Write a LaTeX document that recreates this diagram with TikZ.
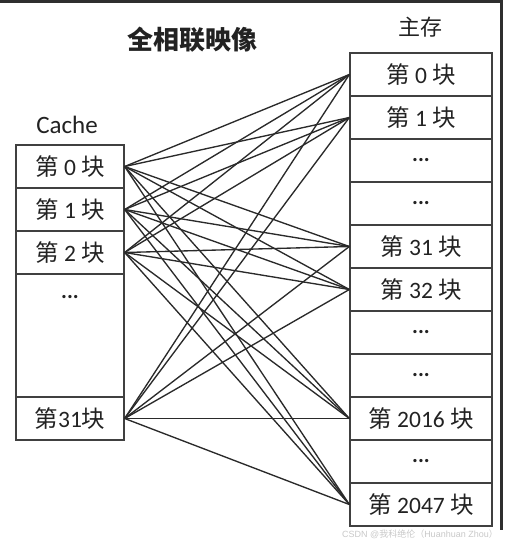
\documentclass[tikz,border=0pt]{standalone}
\usepackage{fontspec}
\setmainfont{Carlito}
\newfontfamily\cjk{Noto Sans CJK SC}
\newfontfamily\wmfont{Liberation Sans}
\definecolor{boxc}{HTML}{404040}
\definecolor{linec}{HTML}{2A2A2A}
\definecolor{framec}{HTML}{2E2E2E}
\definecolor{txtc}{HTML}{222222}
\definecolor{wmc}{HTML}{C8C8C8}
\begin{document}
\begin{tikzpicture}[x=1pt,y=-1pt,
  cell/.style={draw=boxc, line width=1.3pt, minimum height=43pt, inner sep=0pt,
    text=txtc, font=\fontsize{23.5}{28}\selectfont},
  ccell/.style={cell, minimum width=108pt},
  mcell/.style={cell, minimum width=142pt},
  link/.style={draw=linec, line width=1.35pt},
  lbl/.style={text=txtc, inner sep=0pt}]
\useasboundingbox (0,0) rectangle (505,544);
% screenshot frame
\fill[framec] (0,0) rectangle (503,3);
\fill[framec] (500,0) rectangle (503,530);
% titles
\node[lbl, font=\cjk\bfseries\fontsize{26}{30}\selectfont] (title) at (192,40) {全相联映像};
\node[lbl, font=\cjk\fontsize{22}{26}\selectfont] (mainlbl) at (420,27) {主存};
\node[lbl, font=\fontsize{25}{30}\selectfont] (cachelbl) at (67,125) {Cache};
% cache
\node[ccell] (c0) at (70,166.5) {{\cjk 第} 0 {\cjk 块}};
\node[ccell] (c1) at (70,209.5) {{\cjk 第} 1 {\cjk 块}};
\node[ccell] (c2) at (70,252.5) {{\cjk 第} 2 {\cjk 块}};
\node[ccell, minimum height=123pt] (cd) at (70,335.5) {};
\node[lbl, font=\bfseries\fontsize{22}{26}\selectfont] (cdots) at (70,297) {...};
\node[ccell] (c31) at (70,418.5) {{\cjk 第}31{\cjk 块}};
% main memory
\node[mcell] (m0) at (421,74.5) {{\cjk 第} 0 {\cjk 块}};
\node[mcell] (m1) at (421,117.5) {{\cjk 第} 1 {\cjk 块}};
\node[mcell, font=\bfseries\fontsize{22}{26}\selectfont] (md1) at (421,160.5) {...};
\node[mcell, font=\bfseries\fontsize{22}{26}\selectfont] (md2) at (421,203.5) {...};
\node[mcell] (m31) at (421,246.5) {{\cjk 第} 31 {\cjk 块}};
\node[mcell] (m32) at (421,289.5) {{\cjk 第} 32 {\cjk 块}};
\node[mcell, font=\bfseries\fontsize{22}{26}\selectfont] (md3) at (421,332.5) {...};
\node[mcell, font=\bfseries\fontsize{22}{26}\selectfont] (md4) at (421,375.5) {...};
\node[mcell] (m2016) at (421,418.5) {{\cjk 第} 2016 {\cjk 块}};
\node[mcell, font=\bfseries\fontsize{22}{26}\selectfont] (md5) at (421,461.5) {...};
\node[mcell] (m2047) at (421,504.5) {{\cjk 第} 2047 {\cjk 块}};
% connections
\foreach \c in {c0,c1,c2,c31}
  \foreach \m in {m0,m1,m31,m32,m2016,m2047}
    \draw[link] (\c.east) -- (\m.west);
% watermark
\node[inner sep=0pt, text=wmc, font=\wmfont\fontsize{9}{11}\selectfont, anchor=east] (wm) at (498,534) {CSDN @{\cjk 我科绝伦（}Huanhuan Zhou{\cjk ）}};
\end{tikzpicture}
\end{document}
